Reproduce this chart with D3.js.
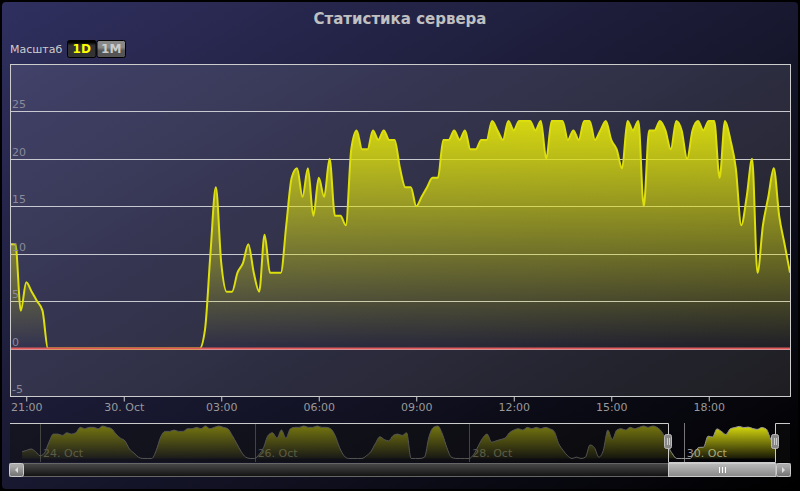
<!DOCTYPE html>
<html lang="ru">
<head>
    <meta charset="UTF-8">
    <title>Статистика сервера</title>
    <style>
        body { margin: 0; background: #000; }
        svg { display: block; font-family: "DejaVu Sans", Verdana, sans-serif; }
    </style>
</head>
<body>
    <div id="chart"></div>
    <script src="https://d3js.org/d3.v7.min.js"></script>
    <script>
        // players online, one point every 10 minutes from 29 Oct 20:30 (the selected day)
        const dayStart = Date.UTC(2012, 9, 29, 20, 30);
        const stepMinutes = 10;
        const players = [
            11, 11, 4, 7, 6, 5, 4, 0,
            0, 0, 0, 0, 0, 0, 0, 0, 0, 0,
            0, 0, 0, 0, 0, 0, 0, 0, 0, 0,
            0, 0, 0, 0, 0, 0, 0, 0,
            2, 10, 17, 9, 6, 6, 8, 9, 11, 8, 6, 12, 8, 8, 8,
            13, 18, 19, 16, 19, 14, 18, 16, 20, 14, 14, 13,
            21, 23, 21, 21, 23, 22, 23, 22, 22,
            19, 17, 17, 15, 16, 17, 18, 18,
            22, 22, 23, 22, 23, 21, 21, 22, 22,
            24, 23, 22, 24, 23, 24, 24, 24, 23, 24, 20,
            24, 24, 24, 22, 23, 22, 24, 24, 22, 23, 24,
            22, 21, 19, 24, 23, 24, 15, 23, 23, 24, 23, 21,
            24, 23, 20, 23, 24, 23, 24, 24, 18, 24,
            22, 19, 13, 16, 20, 8, 13, 16, 19, 14, 11, 8
        ];

        // hourly history shown in the navigator, 23 Oct 20:00 .. 29 Oct 20:00
        const historyStart = Date.UTC(2012, 9, 23, 20, 0);
        const historyPlayers = [
            5, 6, 7, 5,
            2, 4, 12, 18, 18, 17, 19, 18, 19, 23, 22, 23,
            23, 22, 24, 23, 22, 18, 15, 13, 7, 4, 1, 0,
            0, 0, 6, 16, 20, 20, 21, 20, 20, 22, 22, 23,
            22, 24, 22, 23, 24, 23, 22, 17, 11, 5, 1, 0,
            0, 3, 8, 17, 19, 15, 21, 15, 22, 23, 23, 24,
            23, 23, 24, 23, 23, 22, 17, 8, 2, 0, 0, 0,
            0, 2, 5, 11, 16, 14, 13, 17, 18, 17, 19, 0,
            0, 0, 1, 16, 23, 24, 18, 8, 1, 0, 0, 0,
            0, 3, 9, 15, 18, 12, 13, 14, 15, 19, 21, 22,
            21, 23, 22, 23, 22, 23, 22, 20, 11, 6, 2, 0,
            1, 0, 1, 10, 8, 1, 6, 21, 14, 21, 22, 21,
            23, 22, 23, 24, 23, 24, 23, 20, 14
        ];

        const yTicks = [-5, 0, 5, 10, 15, 20, 25];
        const rangeButtons = ["1D", "1M"];
        const selectedButton = "1D";
        const titleText = "Статистика сервера";
        const zoomLabel = "Масштаб";

        const width = 800, height = 491;
        const plot = { left: 10, top: 64, right: 790, bottom: 396 };
        const nav = { top: 423, bottom: 462 };
        const bar = { top: 463, bottom: 477 };

        const mainData = players.map((v, i) => ({ t: new Date(dayStart + i * stepMinutes * 60000), v: v }));
        const historyData = historyPlayers.map((v, i) => ({ t: new Date(historyStart + i * 3600000), v: v }));
        const dayEnd = mainData[mainData.length - 1].t;

        // the navigator groups the selected day into hourly averages, like the history
        const dayHourly = d3.rollups(mainData, g => ({
                t: new Date(d3.mean(g, d => +d.t)),
                v: d3.mean(g, d => d.v)
            }), d => +d3.utcHour.floor(d.t))
            .map(r => r[1]);
        dayHourly[dayHourly.length - 1] = mainData[mainData.length - 1];
        const navData = historyData.concat([mainData[0]], dayHourly);

        const svg = d3.select("#chart")
            .append("svg")
            .attr("width", width)
            .attr("height", height);

        const defs = svg.append("defs");

        const bg = defs.append("linearGradient")
            .attr("id", "bg")
            .attr("x1", 0).attr("y1", 0).attr("x2", 1).attr("y2", 1);
        bg.append("stop").attr("offset", 0).attr("stop-color", "rgb(48,48,96)");
        bg.append("stop").attr("offset", 1).attr("stop-color", "rgb(0,0,0)");

        const areaFill = defs.append("linearGradient")
            .attr("id", "areaFill")
            .attr("gradientUnits", "userSpaceOnUse")
            .attr("x1", 0).attr("y1", 110).attr("x2", 0).attr("y2", 345);
        areaFill.append("stop").attr("offset", 0).attr("stop-color", "#DDDF0D").attr("stop-opacity", 1);
        areaFill.append("stop").attr("offset", 1).attr("stop-color", "#DDDF0D").attr("stop-opacity", 0);

        const navFill = defs.append("linearGradient")
            .attr("id", "navFill")
            .attr("gradientUnits", "userSpaceOnUse")
            .attr("x1", 0).attr("y1", nav.top + 2).attr("x2", 0).attr("y2", nav.bottom);
        navFill.append("stop").attr("offset", 0).attr("stop-color", "#DDDF0D").attr("stop-opacity", 1);
        navFill.append("stop").attr("offset", 1).attr("stop-color", "#DDDF0D").attr("stop-opacity", 0);

        function vGrad(id, stops) {
            const g = defs.append("linearGradient")
                .attr("id", id)
                .attr("x1", 0).attr("y1", 0).attr("x2", 0).attr("y2", 1);
            stops.forEach(s => g.append("stop").attr("offset", s[0]).attr("stop-color", s[1]));
        }
        vGrad("btnFill", [[0.4, "#888"], [0.6, "#555"]]);
        vGrad("btnSelFill", [[0.1, "#000"], [0.3, "#333"]]);
        vGrad("trackFill", [[0, "#4a4a4a"], [1, "#111"]]);
        vGrad("thumbFill", [[0, "#bbb"], [1, "#888"]]);
        vGrad("arrowBtnFill", [[0.2, "#aaa"], [0.9, "#777"]]);

        defs.append("clipPath").attr("id", "plotClip")
            .append("rect")
            .attr("x", plot.left).attr("y", plot.top)
            .attr("width", plot.right - plot.left).attr("height", plot.bottom - plot.top);

        defs.append("clipPath").attr("id", "navClip")
            .append("rect")
            .attr("x", plot.left).attr("y", nav.top)
            .attr("width", plot.right - plot.left).attr("height", nav.bottom - nav.top);

        // background
        svg.append("rect")
            .attr("x", 1).attr("y", 1)
            .attr("width", width - 2).attr("height", height - 2)
            .attr("rx", 5)
            .attr("fill", "url(#bg)")
            .attr("stroke", "#000")
            .attr("stroke-width", 2);

        svg.append("text")
            .attr("x", width / 2)
            .attr("y", 24)
            .attr("text-anchor", "middle")
            .attr("fill", "#C0C0C0")
            .style("font-size", "15px")
            .style("font-weight", "bold")
            .text(titleText);

        // range selector
        svg.append("text")
            .attr("x", 10)
            .attr("y", 53)
            .attr("fill", "#CCC")
            .style("font-size", "11px")
            .text(zoomLabel);

        const btnX = d3.scaleBand().domain(rangeButtons).range([67, 126]);
        const btn = svg.selectAll(".rbtn")
            .data(rangeButtons)
            .enter().append("g")
            .attr("class", "rbtn")
            .attr("transform", d => "translate(" + btnX(d) + ",40)");
        btn.append("rect")
            .attr("x", 0.5).attr("y", 0.5)
            .attr("width", btnX.bandwidth() - 1).attr("height", 17)
            .attr("rx", 2)
            .attr("fill", d => d === selectedButton ? "url(#btnSelFill)" : "url(#btnFill)")
            .attr("stroke", "#000");
        btn.append("text")
            .attr("x", btnX.bandwidth() / 2)
            .attr("y", 13)
            .attr("text-anchor", "middle")
            .attr("fill", d => d === selectedButton ? "yellow" : "#CCC")
            .style("font-size", "12px")
            .style("font-weight", "bold")
            .text(d => d);

        // main chart
        const x = d3.scaleUtc().domain([new Date(dayStart), dayEnd]).range([plot.left, plot.right]);
        const y = d3.scaleLinear().domain([-5, 30]).range([plot.bottom, plot.top]);

        svg.append("rect")
            .attr("x", plot.left).attr("y", plot.top)
            .attr("width", plot.right - plot.left).attr("height", plot.bottom - plot.top)
            .attr("fill", "rgba(255,255,255,0.1)");

        svg.append("g")
            .selectAll("line")
            .data(yTicks)
            .enter().append("line")
            .attr("x1", plot.left).attr("x2", plot.right)
            .attr("y1", d => Math.round(y(d)) + 0.5)
            .attr("y2", d => Math.round(y(d)) + 0.5)
            .attr("stroke", "#C8C8D0")
            .attr("stroke-width", 1);

        const area = d3.area()
            .curve(d3.curveMonotoneX)
            .x(d => x(d.t))
            .y0(y(0))
            .y1(d => y(d.v));
        const line = d3.line()
            .curve(d3.curveMonotoneX)
            .x(d => x(d.t))
            .y(d => y(d.v));

        const series = svg.append("g").attr("clip-path", "url(#plotClip)");
        series.append("path")
            .datum(mainData)
            .attr("d", area)
            .attr("fill", "url(#areaFill)");
        series.append("path")
            .datum(mainData)
            .attr("d", line)
            .attr("fill", "none")
            .attr("stroke", "#DDDF0D")
            .attr("stroke-width", 2);

        // zero line
        svg.append("line")
            .attr("x1", plot.left).attr("x2", plot.right)
            .attr("y1", y(0)).attr("y2", y(0))
            .attr("stroke", "#E05A5A")
            .attr("stroke-width", 2);

        svg.append("g")
            .selectAll("text")
            .data(yTicks)
            .enter().append("text")
            .attr("x", plot.left + 2)
            .attr("y", d => y(d) - 3)
            .attr("fill", "#8a8a9a")
            .style("font-size", "11px")
            .text(d => d);

        svg.append("rect")
            .attr("x", plot.left + 0.5).attr("y", plot.top + 0.5)
            .attr("width", plot.right - plot.left).attr("height", plot.bottom - plot.top)
            .attr("fill", "none")
            .attr("stroke", "#CCC");

        const xAxis = d3.axisBottom(x)
            .ticks(d3.utcHour.every(3))
            .tickSize(5)
            .tickFormat(d => d.getUTCHours() === 0 ? d3.utcFormat("%d. %b")(d) : d3.utcFormat("%H:%M")(d));
        const gx = svg.append("g")
            .attr("transform", "translate(0," + (plot.bottom + 0.5) + ")")
            .call(xAxis);
        gx.select(".domain").remove();
        gx.selectAll(".tick line").attr("stroke", "#CCC");
        gx.selectAll(".tick text")
            .attr("fill", "#999")
            .attr("dy", null)
            .attr("y", 14)
            .style("font-size", "11px")
            .style("font-family", "DejaVu Sans, sans-serif");

        // navigator
        const nx = d3.scaleUtc()
            .domain([new Date(Date.UTC(2012, 9, 23, 17, 17)), new Date(Date.UTC(2012, 9, 30, 23, 45))])
            .range([plot.left, plot.right]);
        const ny = d3.scaleLinear().domain([-2.6, 26.2]).range([nav.bottom, nav.top]);

        const navTicks = d3.utcDay.range(nx.domain()[0], nx.domain()[1]).filter(d => d.getUTCDate() % 2 === 0);
        const navGrid = svg.append("g");
        navGrid.selectAll("line")
            .data(navTicks)
            .enter().append("line")
            .attr("x1", d => Math.round(nx(d)) + 0.5).attr("x2", d => Math.round(nx(d)) + 0.5)
            .attr("y1", nav.top).attr("y2", nav.bottom)
            .attr("stroke", "#777");

        const navArea = d3.area()
            .curve(d3.curveMonotoneX)
            .x(d => nx(d.t))
            .y0(ny(0))
            .y1(d => ny(d.v));
        const navLine = d3.line()
            .curve(d3.curveMonotoneX)
            .x(d => nx(d.t))
            .y(d => ny(d.v));
        const navSeries = svg.append("g").attr("clip-path", "url(#navClip)");
        navSeries.append("path")
            .datum(navData)
            .attr("d", navArea)
            .attr("fill", "url(#navFill)");
        navSeries.append("path")
            .datum(navData)
            .attr("d", navLine)
            .attr("fill", "none")
            .attr("stroke", "#999")
            .attr("stroke-width", 1);

        navGrid.selectAll("text")
            .data(navTicks)
            .enter().append("text")
            .attr("x", d => nx(d) + 3)
            .attr("y", 457)
            .attr("fill", "#999")
            .style("font-size", "11px")
            .text(d => d3.utcFormat("%d. %b")(d));

        const selL = nx(new Date(dayStart)), selR = nx(dayEnd);

        // mask outside the selected day
        svg.append("rect")
            .attr("x", plot.left).attr("y", nav.top)
            .attr("width", selL - plot.left).attr("height", nav.bottom - nav.top)
            .attr("fill", "rgba(16,16,16,0.5)");
        svg.append("rect")
            .attr("x", selR).attr("y", nav.top)
            .attr("width", plot.right - selR).attr("height", nav.bottom - nav.top)
            .attr("fill", "rgba(16,16,16,0.5)");

        svg.append("path")
            .attr("d", "M" + plot.left + "," + (nav.top + 0.5) + "H" + (Math.round(selL) + 0.5) +
                "V" + (nav.bottom + 0.5) + "H" + (Math.round(selR) + 0.5) +
                "V" + (nav.top + 0.5) + "H" + plot.right)
            .attr("fill", "none")
            .attr("stroke", "#CCC");

        // scrollbar
        svg.append("rect")
            .attr("x", plot.left - 0.5).attr("y", bar.top + 0.5)
            .attr("width", plot.right - plot.left + 1).attr("height", bar.bottom - bar.top - 1)
            .attr("fill", "url(#trackFill)")
            .attr("stroke", "#666");
        svg.append("rect")
            .attr("x", Math.round(selL) + 0.5).attr("y", bar.top + 0.5)
            .attr("width", selR - selL).attr("height", bar.bottom - bar.top - 1)
            .attr("fill", "url(#thumbFill)")
            .attr("stroke", "#CCC");
        const rifleX = (selL + selR) / 2;
        [-3, 0, 3].forEach(o => {
            svg.append("line")
                .attr("x1", Math.round(rifleX + o) + 0.5).attr("x2", Math.round(rifleX + o) + 0.5)
                .attr("y1", bar.top + 4).attr("y2", bar.bottom - 4)
                .attr("stroke", "#fff");
        });

        [[plot.left - 0.5, -1], [plot.right - 13.5, 1]].forEach(b => {
            svg.append("rect")
                .attr("x", b[0]).attr("y", bar.top + 0.5)
                .attr("width", 14).attr("height", bar.bottom - bar.top - 1)
                .attr("rx", 2)
                .attr("fill", "url(#arrowBtnFill)")
                .attr("stroke", "#CCC");
            const cx = b[0] + 7, cy = (bar.top + bar.bottom) / 2;
            svg.append("path")
                .attr("d", "M" + (cx - 1.5 * b[1]) + "," + (cy - 3) + "L" + (cx + 1.5 * b[1]) + "," + cy +
                    "L" + (cx - 1.5 * b[1]) + "," + (cy + 3) + "Z")
                .attr("fill", "#ddd");
        });

        // handles
        [selL, selR].forEach(hx => {
            const h = svg.append("g").attr("transform", "translate(" + Math.round(hx) + ",0)");
            h.append("rect")
                .attr("x", -3.5).attr("y", 434.5)
                .attr("width", 7).attr("height", 14)
                .attr("rx", 2)
                .attr("fill", "#888")
                .attr("stroke", "#BBB");
            [-1, 1].forEach(o => {
                h.append("line")
                    .attr("x1", o + 0.5).attr("x2", o + 0.5)
                    .attr("y1", 438).attr("y2", 445)
                    .attr("stroke", "#CCC");
            });
        });
    </script>
</body>
</html>
